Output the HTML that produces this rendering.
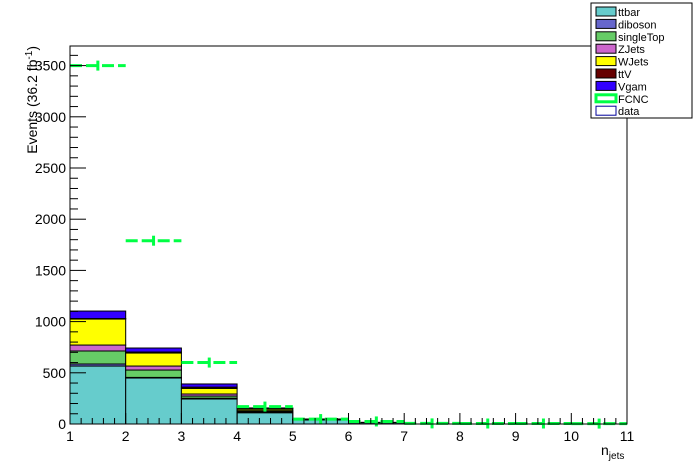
<!DOCTYPE html>
<html><head><meta charset="utf-8"><style>
html,body{margin:0;padding:0;background:#fff;}
svg{display:block;font-family:"Liberation Sans",sans-serif;}
</style></head><body>
<svg id="chart" width="696" height="472" viewBox="0 0 696 472">
<rect x="0" y="0" width="696" height="472" fill="#fff"/>
<g id="bars"></g>
<g id="fcnc"></g>
<g id="axes"></g>
<text transform="translate(37,46) rotate(-90)" font-size="14" text-anchor="end">Events (36.2 fb<tspan dy="-5" font-size="10">-1</tspan><tspan dy="5">)</tspan></text>
<text x="601" y="455" font-size="14">n<tspan dy="4" font-size="10">jets</tspan></text>
<g id="legend"></g>
</svg>
<script>
const binEdges=[1,2,3,4,5,6,7,8,9,10,11];
const ttbar=[566,449,244,110,40,13,0,0,0,0];
const diboson=[20,6,8,5,1,0,0,0,0,0];
const singleTop=[127,72,21,10,2,1,0,0,0,0];
const zjets=[58,39,20,5,1,0,0,0,0,0];
const wjets=[254,127,55,15,2,1,0,0,0,0];
const ttv=[5,10,12,6,2,1,0,0,0,0];
const vgam=[73,39,31,6,1,0,0,0,0,0];
const fcnc=[3500,1790,600,170,48,25,6,5,5,4];
const xTicks=[1,2,3,4,5,6,7,8,9,10,11];
const yTicks=[0,500,1000,1500,2000,2500,3000,3500];
const seriesNames=["ttbar","diboson","singleTop","ZJets","WJets","ttV","Vgam"];
const seriesColors=["#66cccc","#6666cc","#66cc66","#cc66cc","#ffff00","#660000","#3300ff"];
const series=[ttbar,diboson,singleTop,zjets,wjets,ttv,vgam];
const NS="http://www.w3.org/2000/svg";
const X0=70,X1=627,Y0=424,YT=46;
const xs=v=>X0+(v-1)*(X1-X0)/10;
const ys=v=>Y0-v*0.1024;
function mk(tag,attrs,parent){const e=document.createElementNS(NS,tag);for(const k in attrs)e.setAttribute(k,attrs[k]);parent.appendChild(e);return e;}
const gb=document.getElementById('bars');
for(let i=0;i<10;i++){
  let cum=0;
  for(let s=0;s<series.length;s++){
    const v=series[s][i];if(v<=0)continue;
    const r=mk('rect',{x:xs(binEdges[i]),y:ys(cum+v),width:xs(binEdges[i+1])-xs(binEdges[i]),height:ys(cum)-ys(cum+v),fill:seriesColors[s],stroke:'#000','stroke-width':1},gb);
    
    
    cum+=v;
  }
}
const gf=document.getElementById('fcnc');
for(let i=0;i<10;i++){
  const y=ys(fcnc[i]),xa=xs(binEdges[i]),xb=xs(binEdges[i+1]);
  const l=mk('line',{x1:xa,x2:xb,y1:y,y2:y,stroke:'#00ff44','stroke-width':3,'stroke-dasharray':'12 4'},gf);
  
  
  const xm=(xa+xb)/2;
  const e=mk('line',{x1:xm,x2:xm,y1:y-5,y2:y+5,stroke:'#00ff44','stroke-width':3},gf);
  
  
}
const ga=document.getElementById('axes');
mk('rect',{x:X0,y:YT,width:X1-X0,height:Y0-YT,fill:'none',stroke:'#000','stroke-width':1},ga);
for(let t=1;t<=11;t+=0.2){
  const x=xs(t);const major=Math.abs(t-Math.round(t))<1e-6;
  mk('line',{x1:x,x2:x,y1:Y0,y2:Y0-(major?11:6),stroke:'#000'},ga);
}
xTicks.forEach(t=>{const tx=mk('text',{x:xs(t),y:441,'font-size':14,'text-anchor':'middle'},ga);tx.textContent=t;
  
  });
for(let v=0;v<=3600;v+=100){
  const y=ys(v);if(y<YT)break;
  mk('line',{x1:X0,x2:X0+(v%500==0?16:8),y1:y,y2:y,stroke:'#000'},ga);
}
yTicks.forEach(t=>{const tx=mk('text',{x:66,y:ys(t)+5,'font-size':14,'text-anchor':'end'},ga);tx.textContent=t;
  
  });
const gl=document.getElementById('legend');
mk('rect',{x:591,y:3,width:101,height:115,fill:'#fff',stroke:'#000'},gl);
const legNames=seriesNames.concat(["FCNC","data"]);
legNames.forEach((n,i)=>{
  const y=6+i*12.4;
  let sw;
  if(n==="FCNC") sw=mk('rect',{x:596,y:y+2,width:20,height:7,fill:'#fff',stroke:'#00ff44','stroke-width':3},gl);
  else if(n==="data") sw=mk('rect',{x:596,y:y+1,width:20,height:9,fill:'#fff',stroke:'#000099'},gl);
  else sw=mk('rect',{x:596,y:y+1,width:20,height:9,fill:seriesColors[i],stroke:'#000'},gl);
  
  
  const t=mk('text',{x:618,y:y+10,'font-size':11},gl);t.textContent=n;
  
  
});
</script>
</body></html>
